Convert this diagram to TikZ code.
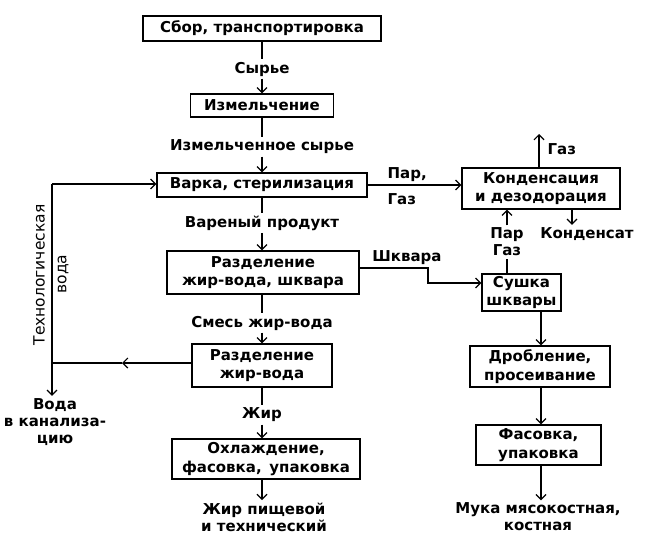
\documentclass[tikz,border=0pt]{standalone}
\usepackage{fontspec}
\setmainfont{DejaVu Sans}
\usetikzlibrary{arrows.meta, positioning, calc}
\tikzset{
    proc/.style={draw, line width=1.2pt, align=center, inner sep=1pt, font=\fontsize{15}{18.5}\selectfont\bfseries},
    lbl/.style={align=center, inner sep=2pt, font=\fontsize{15}{17}\selectfont\bfseries},
    arr/.style={-{Straight Barb[length=5pt, width=10pt]}},
    every path/.append style={line width=1.2pt},
}
\begin{document}
\begin{tikzpicture}[x=1pt, y=-1pt]
    \useasboundingbox (0,0) rectangle (648,539);

    % main column
    \node[proc, minimum width=238pt, minimum height=25pt] (sbor) at (262,28.5) {Сбор, транспортировка};
    \node[proc, minimum width=143pt, minimum height=23pt] (izm) at (262,105.5) {Измельчение};
    \node[proc, minimum width=210pt, minimum height=24pt] (varka) at (262,185) {Варка, стерилизация};
    \node[proc, minimum width=192pt, minimum height=43pt] (razd) at (263,272.5) {Разделение\\жир-вода, шквара};
    \node[proc, minimum width=140pt, minimum height=43pt] (razdw) at (262,365.5) {Разделение\\жир-вода};
    \node[proc, minimum width=188pt, minimum height=40pt] (ohl) at (266,459) {Охлаждение,\\фасовка,\, упаковка};

    \node[lbl] (lsyr) at (262,69) {Сырье};
    \node[lbl] (lizm) at (262,147) {Измельченное сырье};
    \node[lbl] (lvar) at (262,223) {Вареный продукт};
    \node[lbl] (lsm) at (262,323) {Смесь жир-вода};
    \node[lbl] (lzhir) at (262,415) {Жир};
    \node[lbl] (lzhp) at (264,517) {Жир пищевой\\и технический};

    % right column
    \node[proc, minimum width=158pt, minimum height=41pt] (kond) at (541,188.5) {Конденсация\\и дезодорация};
    \node[proc, minimum width=79pt, minimum height=37pt] (sush) at (521.5,292.5) {Сушка\\шквары};
    \node[proc, minimum width=140pt, minimum height=41pt] (drob) at (540,366.5) {Дробление,\\просеивание};
    \node[proc, minimum width=125pt, minimum height=40pt] (fas) at (538.5,445) {Фасовка,\\упаковка};

    \node[lbl, anchor=west] (lpar) at (385,175) {Пар,};
    \node[lbl, anchor=west] (lgaz) at (385,199) {Газ};
    \node[lbl, anchor=west] (lgazup) at (545,149) {Газ};
    \node[lbl] (lkon) at (587,234) {Конденсат};
    \node[lbl] (lpg) at (507,242) {Пар\\Газ};
    \node[lbl] (lshk) at (407,258) {Шквара};
    \node[lbl] (lmuka) at (538,517) {Мука мясокостная,\\костная};

    % left loop
    \node[lbl] (lvoda) at (55,422) {Вода\\в канализа-\\цию};
    \node[rotate=90, font=\fontsize{15.5}{17}\selectfont] (ltech) at (39,275) {Технологическая};
    \node[rotate=90, font=\fontsize{15.5}{17}\selectfont] (lvod2) at (63,274) {вода};

    \coordinate (tw1) at (52,363);
    \coordinate (tw2) at (52,184);
    \coordinate (twm) at (122,363);
    \coordinate (shk1) at (428,268);
    \coordinate (shk2) at (428,283);
    \coordinate (gup) at (539,134);

    % connectors
    \draw (sbor) -- (lsyr);
    \draw[arr] (lsyr) -- (izm);
    \draw (izm) -- (lizm);
    \draw[arr] (lizm) -- (varka);
    \draw (varka) -- (lvar);
    \draw[arr] (lvar) -- (lvar |- razd.north);
    \draw (lvar |- razd.south) -- (lsm);
    \draw[arr] (lsm) -- (razdw);
    \draw (razdw) -- (lzhir);
    \draw[arr] (lzhir) -- (lzhir |- ohl.north);
    \draw[arr] (lzhir |- ohl.south) -- (lzhir |- lzhp.north);

    \draw[arr] (varka.east) -- (kond.west |- varka.east);
    \draw[arr] (kond.north -| gup) -- (gup);
    \draw[arr] (kond.south -| 572,0) -- (lkon.north -| 572,0);
    \draw (sush.north -| lpg) -- (lpg);
    \draw[arr] (lpg) -- (kond.south -| lpg);
    \draw[arr] (razd.east |- shk1) -- (shk1) -- (shk2) -- (sush.west |- shk2);
    \draw[arr] (sush.south -| 541,0) -- (drob.north -| 541,0);
    \draw[arr] (drob.south -| 541,0) -- (fas.north -| 541,0);
    \draw[arr] (fas.south -| 541,0) -- (lmuka.north -| 541,0);

    \draw[arr] (razdw.west |- tw1) -- (twm);
    \draw (twm) -- (tw1) -- (tw2);
    \draw[arr] (tw2) -- (varka.west |- tw2);
    \draw[arr] (tw1) -- (tw1 |- lvoda.north);
\end{tikzpicture}
\end{document}
